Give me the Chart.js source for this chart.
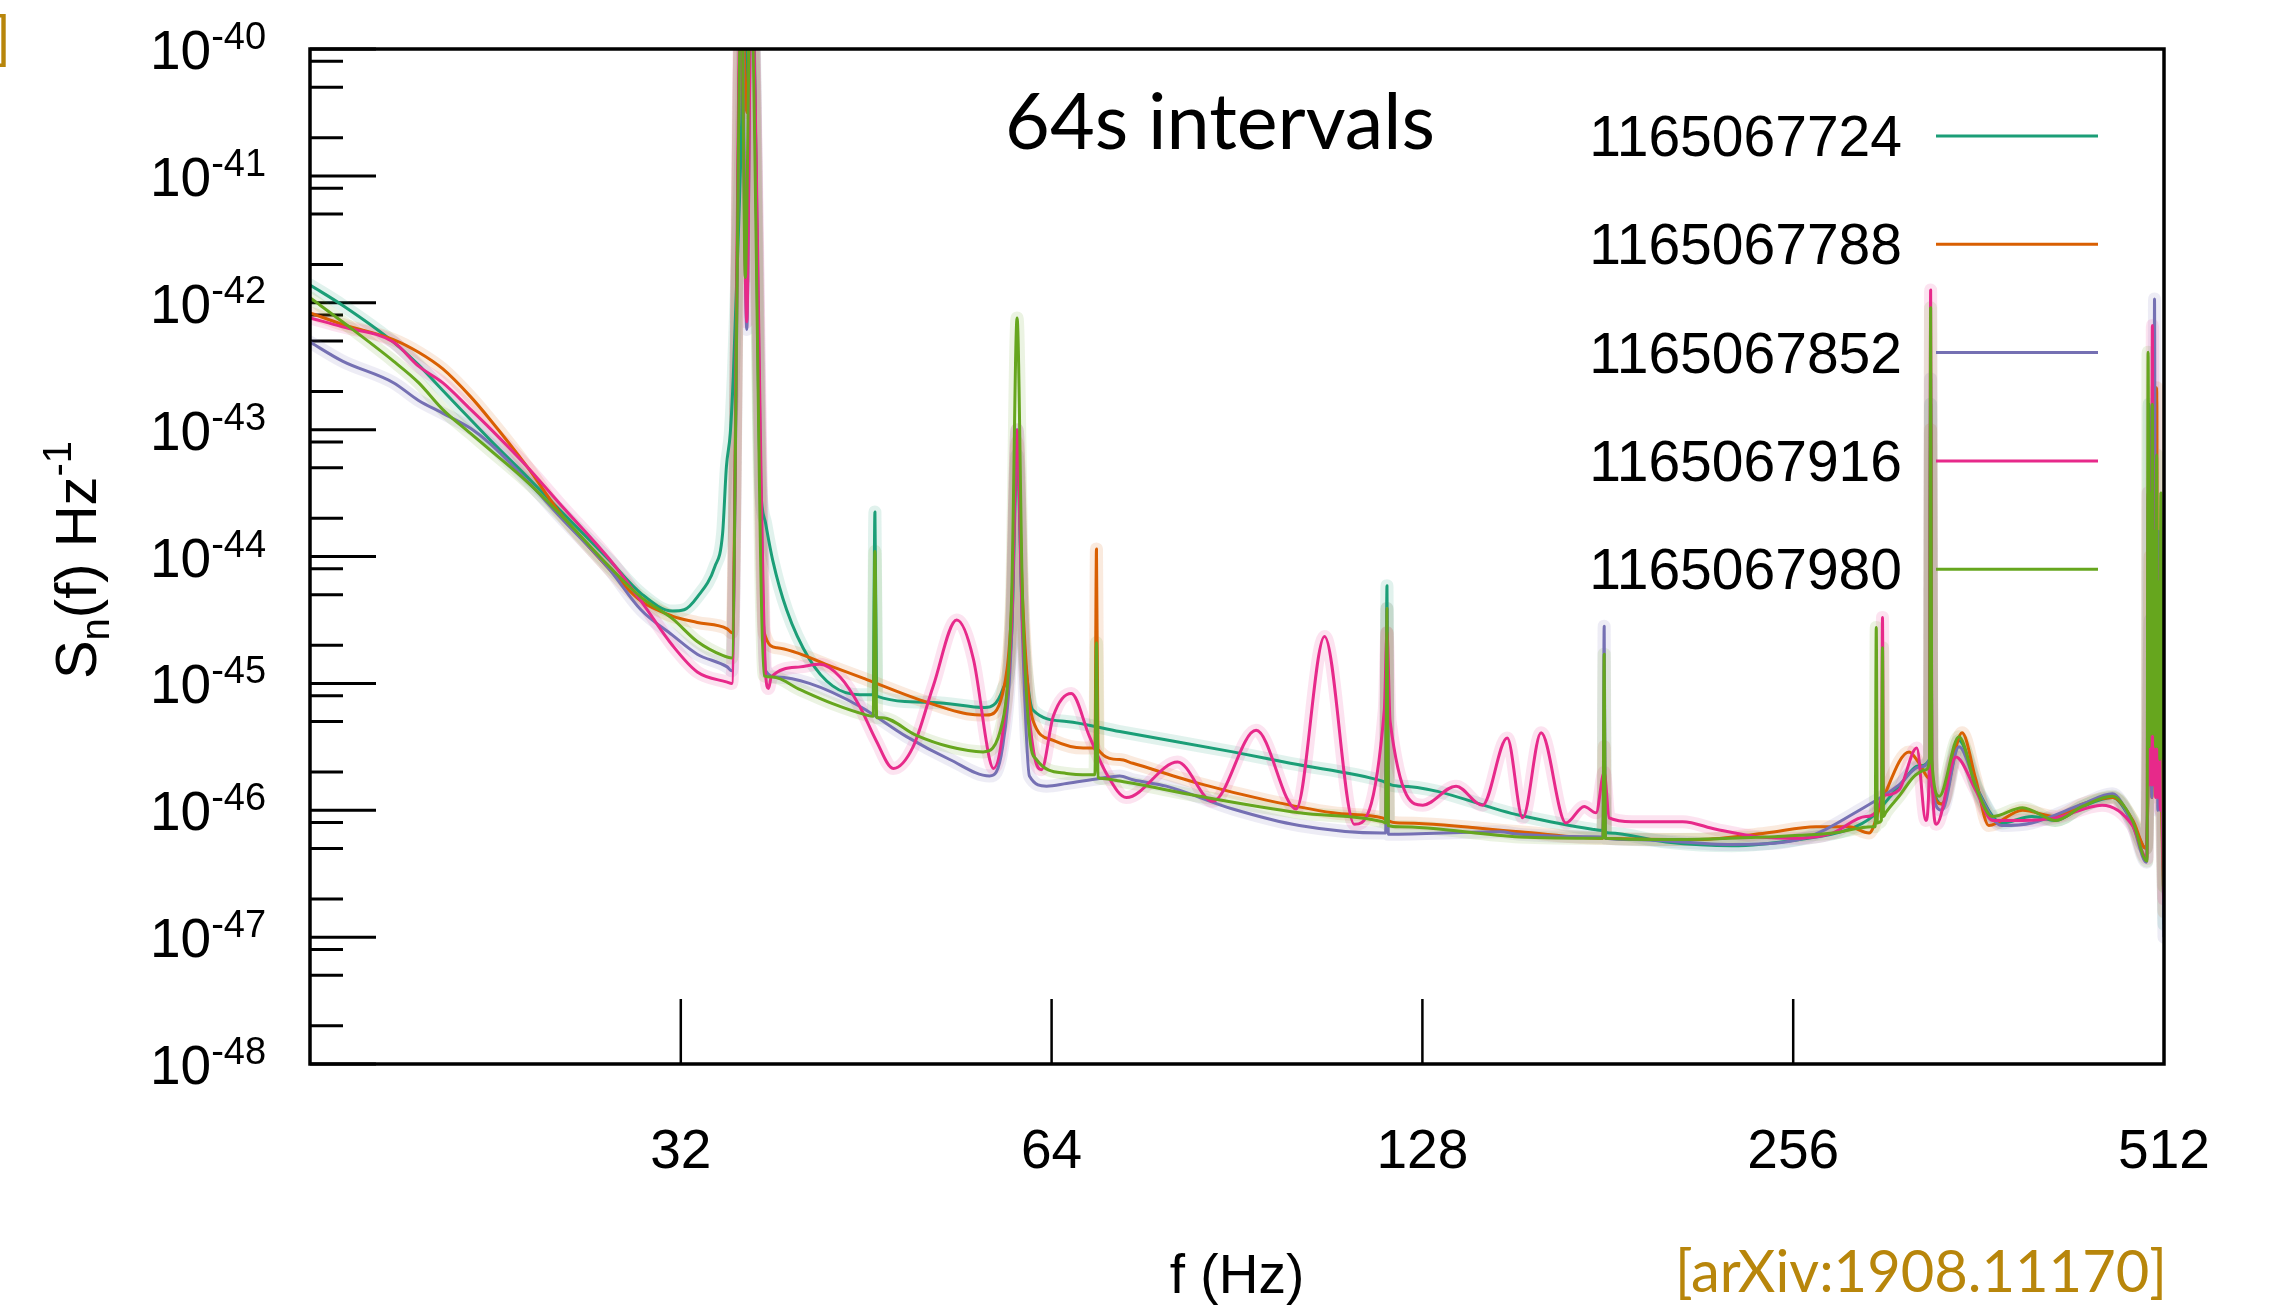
<!DOCTYPE html>
<html>
<head>
<meta charset="utf-8">
<script src="https://cdn.jsdelivr.net/npm/chart.js@4.4.0/dist/chart.umd.min.js"></script>
<style>
html,body{margin:0;padding:0;background:#fff;}
#wrap{width:2280px;height:1306px;}
</style>
</head>
<body>
<div id="wrap"><canvas id="grafico" width="2280" height="1306"></canvas></div>
<script>
// nomes dos intervalos (GPS) e cores
const nomes = ["1165067724", "1165067788", "1165067852", "1165067916", "1165067980"];
const cores = ["#1b9e77", "#d95f02", "#7570b3", "#e7298a", "#66a61e"];

// [f (Hz), log10 S_n(f)]
const psd724 = [[16,-41.86],[17,-42.02],[18.7,-42.31],[19.6,-42.49],[20.5,-42.69],[21.6,-42.92],[22.4,-43.08],[24,-43.37],[25.5,-43.63],[28,-44.03],[29.7,-44.29],[31.5,-44.43],[32.2,-44.42],[33,-44.32],[34.1,-44.08],[34.6,-43.82],[34.85,-43.29],[35.1,-43.03],[35.3,-42.58],[35.6,-41.58],[35.85,-40.59],[36,-39.5],[36.25,-40.3],[36.6,-39.5],[37.1,-43.3],[37.5,-43.74],[38,-44.03],[39,-44.42],[40.7,-44.81],[42.5,-45.02],[44.7,-45.09],[45.85,-45.09],[46,-43.65],[46.15,-45.1],[51.3,-45.15],[56.5,-45.19],[58.4,-45.05],[59.4,-44.6],[60,-43.2],[60.6,-44.5],[61.2,-45.0],[61.8,-45.21],[65.8,-45.3],[72.7,-45.38],[89.8,-45.54],[100,-45.63],[118.8,-45.77],[119.5,-45.78],[119.8,-44.23],[120.1,-45.79],[122.6,-45.81],[153.5,-46.04],[175.8,-46.15],[179.4,-46.16],[179.8,-45.9],[180.2,-46.17],[181.5,-46.18],[201.8,-46.25],[228.4,-46.28],[258.9,-46.23],[284.2,-46.15],[296.8,-46.05],[312,-45.81],[324,-45.65],[330.3,-45.6],[331,-42.8],[331.7,-45.7],[338,-45.95],[349,-45.45],[362,-45.85],[378,-46.1],[400,-46.05],[418,-46.08],[440,-45.97],[465,-45.9],[483,-46.1],[495,-46.3],[497,-45.5],[498,-42.8],[499.5,-45.6],[501,-44.8],[502.5,-45.6],[505,-44.0],[506.5,-45.7],[508,-45.0],[510,-46.0],[512,-46.9]];

const psd788 = [[16,-42.08],[17,-42.17],[18.7,-42.29],[19.6,-42.39],[20.5,-42.52],[21.6,-42.74],[22.4,-42.92],[24,-43.29],[25.5,-43.65],[28,-44.1],[29.7,-44.35],[31.5,-44.47],[33,-44.52],[34.9,-44.57],[35.2,-44.6],[35.85,-39.5],[36.2,-40.5],[36.5,-39.5],[37.4,-44.6],[38.3,-44.72],[42.5,-44.87],[45.3,-44.97],[49.7,-45.12],[54.6,-45.24],[56.7,-45.25],[58.4,-45.08],[59.4,-44.4],[60,-43.1],[60.6,-44.3],[61.2,-45.0],[61.8,-45.29],[64.2,-45.45],[67.9,-45.51],[69.4,-45.51],[69.6,-43.94],[69.8,-45.52],[72.7,-45.6],[74.5,-45.63],[84.4,-45.79],[95.6,-45.92],[108.3,-46.02],[118.8,-46.06],[119.5,-46.07],[119.8,-44.6],[120.1,-46.08],[122.6,-46.1],[153.5,-46.17],[179.4,-46.22],[179.8,-45.5],[180.2,-46.22],[214.7,-46.23],[243.3,-46.18],[267.1,-46.13],[284.2,-46.13],[295,-46.18],[302.4,-45.92],[317.9,-45.54],[324,-45.63],[330.3,-45.75],[331,-43.0],[331.7,-45.8],[338,-45.95],[351,-45.39],[360,-45.75],[369,-46.12],[393,-46.0],[418,-46.05],[440,-45.95],[465,-45.9],[483,-46.08],[495,-46.3],[497,-45.8],[499,-44.0],[500.5,-45.9],[503,-44.5],[504,-45.8],[505,-42.67],[506,-45.9],[508,-44.5],[510,-46.1],[512,-46.8]];

const psd852 = [[16,-42.31],[17,-42.46],[18.7,-42.63],[19.6,-42.77],[20.5,-42.87],[21.6,-42.99],[22.4,-43.11],[24,-43.4],[25.5,-43.68],[28,-44.1],[29.7,-44.42],[31.5,-44.62],[33,-44.77],[34.9,-44.87],[35.2,-44.9],[35.85,-39.5],[36.2,-42.21],[36.5,-39.5],[37.5,-44.9],[38.3,-44.95],[40.7,-45.0],[44.7,-45.18],[48.8,-45.42],[52.9,-45.6],[57,-45.73],[58.4,-45.5],[59.4,-44.6],[60,-43.0],[60.6,-44.6],[61.4,-45.73],[63.4,-45.81],[65.8,-45.79],[70,-45.75],[72.7,-45.73],[74.5,-45.76],[79.3,-45.81],[89.8,-45.99],[101.7,-46.12],[118.8,-46.18],[119.5,-46.18],[119.8,-44.41],[120.1,-46.19],[147.8,-46.17],[153.5,-46.19],[179.4,-46.21],[179.8,-44.55],[180.2,-46.22],[189.5,-46.23],[228.4,-46.27],[258.9,-46.23],[293.2,-45.97],[312,-45.8],[324,-45.66],[330.3,-45.6],[331,-42.6],[331.7,-45.8],[338,-46.0],[349,-45.5],[362,-45.86],[378,-46.12],[400,-46.1],[440,-45.95],[465,-45.87],[483,-46.12],[495.5,-46.41],[497,-45.7],[499,-44.5],[500.5,-45.9],[501.5,-43.5],[502.3,-45.8],[503,-41.97],[504,-45.8],[505,-44.5],[506.2,-46.0],[507,-43.8],[508.5,-46.0],[509.5,-45.0],[511,-46.3],[512,-47.0]];

const psd916 = [[16,-42.12],[17,-42.19],[18.7,-42.31],[19.6,-42.5],[20.5,-42.63],[21.6,-42.84],[22.4,-42.99],[24,-43.29],[25.5,-43.58],[28,-44.02],[29.7,-44.35],[31.5,-44.7],[33,-44.91],[34.9,-44.99],[35.2,-45.0],[35.8,-39.5],[36.2,-42.15],[36.5,-39.5],[37.5,-44.93],[37.7,-45.04],[37.9,-44.95],[40,-44.87],[41.5,-44.85],[43.1,-44.95],[44.7,-45.18],[46.1,-45.45],[47.6,-45.67],[49.4,-45.5],[51.3,-45.02],[53.6,-44.5],[55.3,-44.81],[57,-45.6],[57.4,-45.67],[58.4,-45.39],[59.4,-44.5],[60,-43.0],[60.6,-44.5],[61.8,-45.5],[62.8,-45.68],[64.2,-45.26],[66.4,-45.08],[68.7,-45.42],[70.9,-45.71],[73.6,-45.9],[81,-45.62],[86.5,-45.93],[93.8,-45.37],[101.1,-45.99],[106.6,-44.63],[112.7,-46.11],[119.2,-45.21],[119.8,-44.6],[120.5,-45.3],[128.1,-45.96],[136.3,-45.81],[143.2,-45.96],[150,-45.43],[154.4,-46.06],[159.8,-45.39],[167.4,-46.1],[173.2,-45.97],[177.1,-46.02],[179.8,-45.7],[181.5,-46.06],[189.5,-46.09],[208.2,-46.09],[221.6,-46.15],[240.3,-46.21],[258.9,-46.22],[275.5,-46.18],[293.2,-46.05],[302,-45.9],[302.5,-44.48],[303,-45.88],[312,-45.84],[322.5,-45.51],[328,-46.08],[330.3,-45.6],[331,-41.9],[331.7,-45.6],[334.6,-46.11],[347,-45.58],[360,-45.84],[371.5,-46.08],[393,-46.08],[418,-46.06],[456,-45.96],[482.6,-46.12],[496,-46.38],[497,-43.5],[498,-45.8],[499,-44.0],[500,-45.8],[501,-42.18],[502,-45.8],[503,-44.5],[504,-45.9],[505,-44.0],[506,-45.9],[507,-45.0],[508.5,-46.0],[509.5,-44.5],[511,-46.2],[512,-46.7]];

const psd980 = [[16,-41.96],[17,-42.15],[18.7,-42.46],[19.6,-42.63],[20.5,-42.84],[21.6,-43.03],[22.4,-43.16],[24,-43.41],[25.5,-43.66],[28,-44.08],[29.7,-44.32],[31.5,-44.49],[33,-44.67],[34.6,-44.78],[35.2,-44.8],[35.85,-39.5],[36.1,-41.8],[36.45,-39.5],[37.4,-44.94],[38,-44.95],[40,-45.05],[42.5,-45.16],[45.3,-45.25],[45.85,-45.26],[46,-43.96],[46.15,-45.27],[46.6,-45.27],[49.7,-45.41],[52.9,-45.5],[56.3,-45.54],[58.4,-45.3],[59.4,-44.3],[60,-42.12],[60.6,-44.3],[61.4,-45.4],[62.2,-45.6],[65.8,-45.71],[68.7,-45.72],[69.4,-45.72],[69.6,-44.68],[69.8,-45.74],[70.4,-45.75],[72.7,-45.77],[84.4,-45.89],[101.7,-46.02],[118.8,-46.09],[119.5,-46.1],[119.8,-44.41],[120.1,-46.12],[122.6,-46.13],[153.5,-46.21],[179.4,-46.22],[179.8,-44.77],[180.2,-46.22],[201.8,-46.23],[243.3,-46.21],[275.5,-46.18],[296.8,-46.13],[298.4,-46.13],[299,-44.56],[299.6,-46.1],[301.9,-46.08],[302.5,-44.72],[303.1,-46.05],[304.3,-46.02],[312,-45.89],[322,-45.72],[328,-45.68],[330.3,-45.6],[331,-42.04],[331.7,-45.6],[336.3,-45.89],[349,-45.42],[360,-45.81],[371.5,-46.05],[393,-45.98],[418,-46.08],[439.5,-45.97],[464.8,-45.89],[482.6,-46.08],[496,-46.4],[497,-42.39],[498,-45.5],[499,-43.5],[500,-45.4],[501,-42.8],[502,-45.4],[503,-43.8],[504,-45.5],[505,-43.2],[506,-45.5],[507,-44.2],[508,-45.6],[509,-43.5],[510.5,-45.2],[512,-46.6]];

const series = [psd724, psd788, psd852, psd916, psd980];
// ordem de desenho: verde por cima
const ordens = [4, 3, 2, 1, 0];

// eixos
const xTicks = [32, 64, 128, 256, 512];
const yExpoentes = [-40, -41, -42, -43, -44, -45, -46, -47, -48];
const yMenores = [2, 5, 8];

const titulo = "64s intervals";
const eixoX = "f (Hz)";
const fonte = "[arXiv:1908.11170]";

function rgba(hex, a){
let n = parseInt(hex.slice(1), 16);
return `rgba(${(n>>16)&255},${(n>>8)&255},${n&255},${a})`;
}

let datasets = [];
series.forEach((s, i) => {
let pts = s.map(p => ({x: p[0], y: Math.pow(10, p[1])}));
// faixa clara por baixo da linha
datasets.push({
data: pts, borderColor: rgba(cores[i], 0.13), borderWidth: 13,
pointRadius: 0, cubicInterpolationMode: 'monotone', order: 10 + ordens[i], clip: 0,
borderJoinStyle: 'round', borderCapStyle: 'round'
});
datasets.push({
label: nomes[i], data: pts, borderColor: cores[i], borderWidth: 3,
pointRadius: 0, cubicInterpolationMode: 'monotone', order: ordens[i], clip: 0,
borderJoinStyle: 'round'
});
});

function pot(ctx, x, y, base, exp, tam, tamExp){
ctx.textAlign = "left";
ctx.font = `${tam}px "Liberation Sans"`;
let wb = ctx.measureText(base).width;
ctx.fillText(base, x, y);
ctx.font = `${tamExp}px "Liberation Sans"`;
ctx.fillText(exp, x + wb, y - 20);
}

const decor = {
id: "decor",
beforeDatasetsDraw(chart){
let ctx = chart.ctx, a = chart.chartArea;
let sx = chart.scales.x, sy = chart.scales.y;
ctx.save();
ctx.strokeStyle = "#000";
ctx.lineWidth = 3;
ctx.beginPath();
yExpoentes.forEach(e => {
let y = sy.getPixelForValue(Math.pow(10, e));
ctx.moveTo(a.left, y); ctx.lineTo(a.left + 66, y);
});
for (let e = -48; e < -40; e++){
yMenores.forEach(m => {
let y = sy.getPixelForValue(m * Math.pow(10, e));
ctx.moveTo(a.left, y); ctx.lineTo(a.left + 33, y);
});
}
ctx.stroke();
ctx.lineWidth = 2.5;
ctx.beginPath();
xTicks.slice(0, -1).forEach(v => {
let x = sx.getPixelForValue(v);
ctx.moveTo(x, a.bottom); ctx.lineTo(x, a.bottom - 65);
});
ctx.stroke();
ctx.restore();
},
afterDatasetsDraw(chart){
let ctx = chart.ctx, a = chart.chartArea;
ctx.save();
ctx.strokeStyle = "#000";
ctx.lineWidth = 3.5;
ctx.strokeRect(a.left, a.top, a.right - a.left, a.bottom - a.top);
ctx.restore();
},
afterDraw(chart){
let ctx = chart.ctx, a = chart.chartArea;
let sx = chart.scales.x, sy = chart.scales.y;
ctx.save();
ctx.fillStyle = "#000";
ctx.textBaseline = "alphabetic";

// rotulos do eixo y
yExpoentes.forEach(e => {
let y = sy.getPixelForValue(Math.pow(10, e));
pot(ctx, 150, y + 20, "10", String(e), 55, 38);
});

// rotulos do eixo x
ctx.font = '55px "Liberation Sans"';
ctx.textAlign = "center";
xTicks.forEach(v => {
ctx.fillText(String(v), sx.getPixelForValue(v), 1168);
});
ctx.fillText(eixoX, (a.left + a.right) / 2, 1293);

// titulo do eixo y
ctx.save();
ctx.translate(96, 560);
ctx.rotate(-Math.PI / 2);
let partes = [["S", 58, 0], ["n", 40, 13], ["(f) Hz", 58, 0], ["-1", 40, -25]];
let total = 0;
partes.forEach(p => { ctx.font = `${p[1]}px "Liberation Sans"`; total += ctx.measureText(p[0]).width; });
let px = -total / 2;
ctx.textAlign = "left";
partes.forEach(p => {
ctx.font = `${p[1]}px "Liberation Sans"`;
ctx.fillText(p[0], px, p[2]);
px += ctx.measureText(p[0]).width;
});
ctx.restore();

// titulo
ctx.font = '100px Lato';
let w = ctx.measureText(titulo).width;
ctx.font = `${100 * 430 / w}px Lato`;
ctx.textAlign = "center";
ctx.fillText(titulo, 1220, 149);

// legenda
nomes.forEach((n, i) => {
let y = 136 + i * 108.3;
ctx.font = '57px "Liberation Sans"';
ctx.textAlign = "right";
ctx.fillStyle = "#000";
ctx.fillText(n, 1902, y + 20);
ctx.strokeStyle = cores[i];
ctx.lineWidth = 3;
ctx.beginPath();
ctx.moveTo(1936, y); ctx.lineTo(2098, y);
ctx.stroke();
});

// referencia
ctx.fillStyle = "#b8860b";
ctx.font = '100px Lato';
w = ctx.measureText(fonte).width;
ctx.font = `${100 * 492 / w}px Lato`;
ctx.textAlign = "right";
ctx.fillText(fonte, 2167, 1292);
ctx.fillText("]", 11, 59);
ctx.restore();
}
};

new Chart(document.getElementById("grafico"), {
type: "line",
data: {datasets: datasets},
options: {
responsive: false,
devicePixelRatio: 1,
animation: false,
layout: {padding: {left: 310, top: 49, right: 116, bottom: 242}},
plugins: {legend: {display: false}, tooltip: {enabled: false}},
scales: {
x: {type: "logarithmic", min: 16, max: 512, display: false},
y: {type: "logarithmic", min: 1e-48, max: 1e-40, display: false}
}
},
plugins: [decor]
});
</script>
</body>
</html>
